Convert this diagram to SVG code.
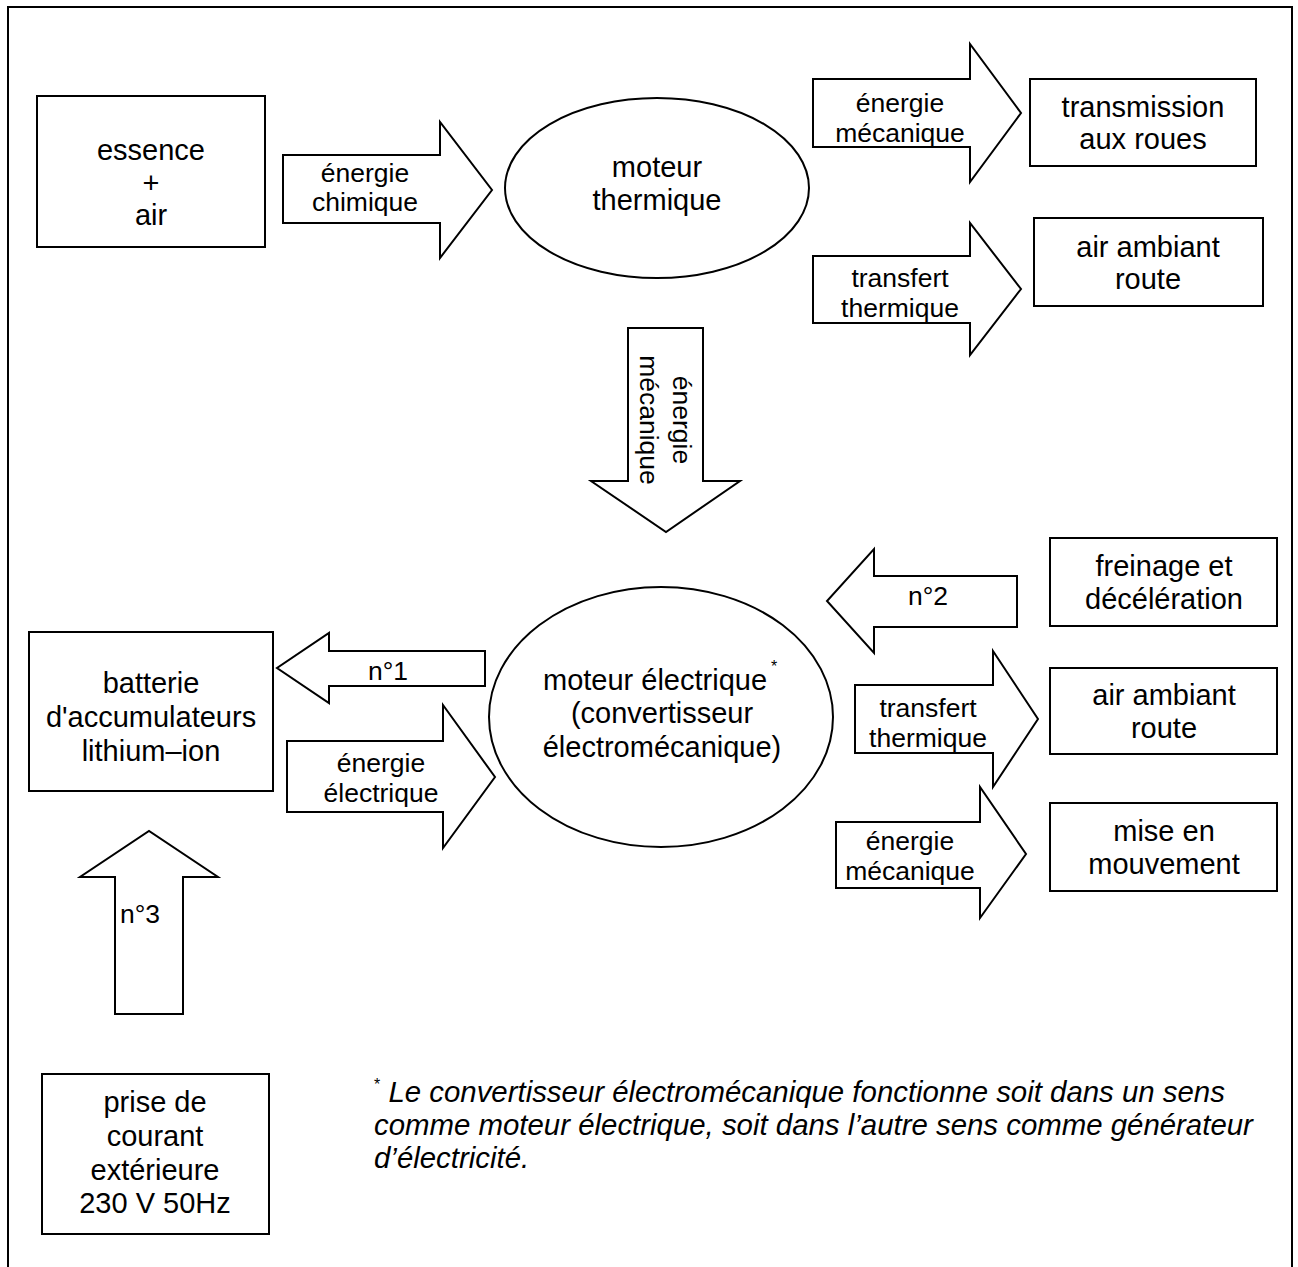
<svg xmlns="http://www.w3.org/2000/svg" width="1298" height="1267" viewBox="0 0 1298 1267">
<style>
.shape{fill:#fff;stroke:#000;stroke-width:2}
.frame{fill:none;stroke:#000;stroke-width:2}
text{font-family:"Liberation Sans",Arial,sans-serif;fill:#000}
.t{font-size:29px;text-anchor:middle}
.l{font-size:26.5px;text-anchor:middle}
.note{font-size:29.4px;font-style:italic}
</style>
<rect width="1298" height="1267" fill="#fff"/>
<path class="frame" d="M8,1270 V7 H1292 V1270"/>

<g id="connectors">
  <g id="a-chimique">
    <polygon class="shape" points="283,155 440,155 440,122 492,190 440,258 440,223 283,223"/>
    <text class="l" x="365" y="182">énergie</text>
    <text class="l" x="365" y="211">chimique</text>
  </g>
  <g id="a-meca-top">
    <polygon class="shape" points="813,79 970,79 970,44 1021,113 970,182 970,147 813,147"/>
    <text class="l" x="900" y="112">énergie</text>
    <text class="l" x="900" y="142">mécanique</text>
  </g>
  <g id="a-therm-top">
    <polygon class="shape" points="813,256 970,256 970,223 1021,289 970,355 970,323 813,323"/>
    <text class="l" x="900" y="287">transfert</text>
    <text class="l" x="900" y="317">thermique</text>
  </g>
  <g id="a-meca-down">
    <polygon class="shape" points="628,328 703,328 703,481 740,481 666,532 591,481 628,481"/>
    <text class="l" transform="translate(673,420) rotate(90)">énergie</text>
    <text class="l" transform="translate(640,420) rotate(90)">mécanique</text>
  </g>
  <g id="a-n1">
    <polygon class="shape" points="485,651 329,651 329,633 277,668 329,703 329,686 485,686"/>
    <text class="l" x="388" y="680">n°1</text>
  </g>
  <g id="a-elec">
    <polygon class="shape" points="287,741 443,741 443,705 495,777 443,848 443,812 287,812"/>
    <text class="l" x="381" y="772">énergie</text>
    <text class="l" x="381" y="802">électrique</text>
  </g>
  <g id="a-n3">
    <polygon class="shape" points="115,1014 115,877 80,877 149,831 218,877 183,877 183,1014"/>
    <text class="l" x="140" y="923">n°3</text>
  </g>
  <g id="a-n2">
    <polygon class="shape" points="1017,576 874,576 874,549 827,601 874,653 874,627 1017,627"/>
    <text class="l" x="928" y="605">n°2</text>
  </g>
  <g id="a-therm-elec">
    <polygon class="shape" points="855,685 993,685 993,651 1038,719 993,787 993,753 855,753"/>
    <text class="l" x="928" y="717">transfert</text>
    <text class="l" x="928" y="747">thermique</text>
  </g>
  <g id="a-meca-elec">
    <polygon class="shape" points="836,822 980,822 980,787 1026,854 980,918 980,888 836,888"/>
    <text class="l" x="910" y="850">énergie</text>
    <text class="l" x="910" y="880">mécanique</text>
  </g>
</g>

<g id="essence">
  <rect class="shape" x="37" y="96" width="228" height="151"/>
  <text class="t" x="151" y="160">essence</text>
  <text class="t" x="151" y="193">+</text>
  <text class="t" x="151" y="225">air</text>
</g>
<g id="moteur-thermique">
  <ellipse class="shape" cx="657" cy="188" rx="152" ry="90"/>
  <text class="t" x="657" y="177">moteur</text>
  <text class="t" x="657" y="210">thermique</text>
</g>
<g id="transmission">
  <rect class="shape" x="1030" y="79" width="226" height="87"/>
  <text class="t" x="1143" y="117">transmission</text>
  <text class="t" x="1143" y="149">aux roues</text>
</g>
<g id="air-ambiant-1">
  <rect class="shape" x="1034" y="218" width="229" height="88"/>
  <text class="t" x="1148" y="257">air ambiant</text>
  <text class="t" x="1148" y="289">route</text>
</g>
<g id="batterie">
  <rect class="shape" x="29" y="632" width="244" height="159"/>
  <text class="t" x="151" y="693">batterie</text>
  <text class="t" x="151" y="727">d'accumulateurs</text>
  <text class="t" x="151" y="761">lithium–ion</text>
</g>
<g id="moteur-electrique">
  <ellipse class="shape" cx="661" cy="717" rx="172" ry="130"/>
  <text class="t" x="655" y="690">moteur électrique</text>
  <text x="771" y="672" style="font-size:16px">*</text>
  <text class="t" x="662" y="723">(convertisseur</text>
  <text class="t" x="662" y="757">électromécanique)</text>
</g>
<g id="freinage">
  <rect class="shape" x="1050" y="538" width="227" height="88"/>
  <text class="t" x="1164" y="576">freinage et</text>
  <text class="t" x="1164" y="609">décélération</text>
</g>
<g id="air-ambiant-2">
  <rect class="shape" x="1050" y="668" width="227" height="86"/>
  <text class="t" x="1164" y="705">air ambiant</text>
  <text class="t" x="1164" y="738">route</text>
</g>
<g id="mise-en-mouvement">
  <rect class="shape" x="1050" y="803" width="227" height="88"/>
  <text class="t" x="1164" y="841">mise en</text>
  <text class="t" x="1164" y="874">mouvement</text>
</g>
<g id="prise">
  <rect class="shape" x="42" y="1074" width="227" height="160"/>
  <text class="t" x="155" y="1112">prise de</text>
  <text class="t" x="155" y="1146">courant</text>
  <text class="t" x="155" y="1180">extérieure</text>
  <text class="t" x="155" y="1213">230 V 50Hz</text>
</g>
<g id="note">
  <text class="note" x="374" y="1102"><tspan style="font-size:16px;font-style:normal" dy="-12">*</tspan><tspan dy="12"> Le convertisseur électromécanique fonctionne soit dans un sens</tspan></text>
  <text class="note" x="374" y="1135">comme moteur électrique, soit dans l’autre sens comme générateur</text>
  <text class="note" x="374" y="1168">d’électricité.</text>
</g>
</svg>
